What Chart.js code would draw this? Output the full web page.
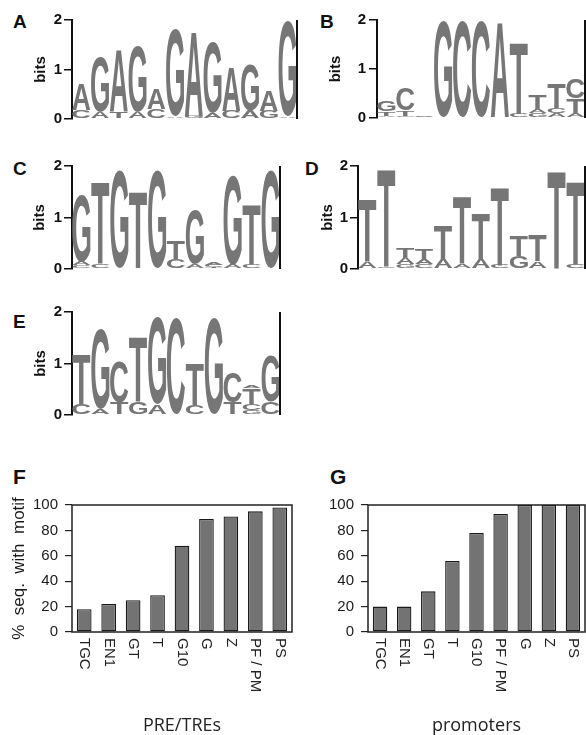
<!DOCTYPE html>
<html>
<head>
<meta charset="utf-8">
<script src="https://cdn.jsdelivr.net/npm/chart.js@4.4.1/dist/chart.umd.min.js"></script>
<style>
  html, body { margin: 0; padding: 0; background: #fff; }
  #wrap { position: relative; width: 586px; height: 735px; overflow: hidden; background: #fff; }
  canvas { position: absolute; }
  .pl { position: absolute; font-family: "Liberation Sans", Arial, Helvetica, sans-serif; font-weight: bold; font-size: 19px; line-height: 19px; color: #111; }
</style>
</head>
<body>
<div id="wrap">
  <div class="pl" style="left:13px;top:12px">A</div>
  <div class="pl" style="left:320px;top:12px">B</div>
  <div class="pl" style="left:13px;top:159px">C</div>
  <div class="pl" style="left:305px;top:159px">D</div>
  <div class="pl" style="left:13px;top:312px">E</div>
  <div class="pl" style="left:13px;top:466px;font-size:21px;line-height:21px">F</div>
  <div class="pl" style="left:330px;top:466px;font-size:21px;line-height:21px">G</div>

  <canvas id="cA" width="300" height="130" style="left:0;top:0"></canvas>
  <canvas id="cB" width="296" height="130" style="left:290px;top:0"></canvas>
  <canvas id="cC" width="300" height="140" style="left:0;top:140px"></canvas>
  <canvas id="cD" width="296" height="140" style="left:290px;top:140px"></canvas>
  <canvas id="cE" width="300" height="140" style="left:0;top:290px"></canvas>
  <canvas id="cF" width="300" height="295" style="left:0;top:440px"></canvas>
  <canvas id="cG" width="296" height="295" style="left:290px;top:440px"></canvas>
</div>
<script>
// ---------- DATA ----------
// Sequence logos: letters per position (bottom -> top) and their heights in bits
const logoA_letters = [['C','A'],['A','G'],['T','A'],['A','G'],['C','A'],['A','G'],['G','A'],['A','G'],['C','A'],['A','G'],['G','A'],['A','G']];
const logoA_bits    = [[.18,.52],[.15,1.12],[.15,1.25],[.15,1.32],[.2,.43],[.05,1.75],[.06,1.71],[.12,1.43],[.17,.89],[.17,.93],[.17,.43],[.05,1.92]];

const logoB_letters = [['A','T','G'],['G','T','C'],['A','C'],['G'],['C'],['C'],['A'],['C','T'],['G','A','T'],['A','C','T'],['A','T','C']];
const logoB_bits    = [[.05,.08,.2],[.05,.1,.45],[.03,.03],[1.98],[1.98],[1.98],[1.96],[.08,1.45],[.1,.08,.3],[.1,.1,.5],[.08,.32,.4]];

const logoC_letters = [['C','A','G'],['C','T'],['G'],['T'],['G'],['C','T'],['A','G'],['T','C','A'],['A','G'],['C','T'],['G']];
const logoC_bits    = [[.07,.07,1.3],[.1,1.6],[1.92],[1.5],[1.92],[.2,.35],[.1,1.05],[.04,.04,.05],[.08,1.75],[.1,1.15],[1.92]];

const logoD_letters = [['A','T'],['C','T'],['G','A','T'],['C','A','T'],['A','T'],['A','T'],['A','T'],['C','T'],['G','T'],['A','T'],['T'],['C','T']];
const logoD_bits    = [[.15,1.2],[.05,1.9],[.1,.12,.2],[.1,.1,.2],[.2,.65],[.1,1.3],[.2,.87],[.08,1.5],[.25,.4],[.15,.5],[1.9],[.08,1.62]];

const logoE_letters = [['C','T'],['A','G'],['T','C'],['G','T'],['A','G'],['C'],['C','T'],['G'],['T','C'],['G','C','T','A'],['C','G']];
const logoE_bits    = [[.22,.95],[.12,1.55],[.25,.78],[.25,1.25],[.2,1.68],[1.88],[.2,.8],[1.88],[.25,.58],[.1,.12,.3,.04],[.25,.9]];

const bitTicks = [0, 1, 2];

// Bar charts
const F_categories = ['TGC','EN1','GT','T','G10','G','Z','PF / PM','PS'];
const F_values     = [18, 22, 25, 29, 68, 89, 91, 95, 98];
const G_categories = ['TGC','EN1','GT','T','G10','PF / PM','G','Z','PS'];
const G_values     = [20, 20, 32, 56, 78, 93, 100, 100, 100];

// ---------- HELPERS ----------
const SANS = '"Liberation Sans", Arial, Helvetica, sans-serif';
const LETTER_COLOR = '#767676';

function drawLetter(ctx, ch, left, top, w, h) {
  if (h < 0.6 || w < 1) return;
  ctx.save();
  ctx.font = 'bold 100px ' + SANS;
  ctx.textAlign = 'left';
  ctx.textBaseline = 'alphabetic';
  const m = ctx.measureText(ch);
  const gw = m.actualBoundingBoxLeft + m.actualBoundingBoxRight;
  const gh = m.actualBoundingBoxAscent + m.actualBoundingBoxDescent;
  ctx.translate(left, top);
  ctx.scale(w / gw, h / gh);
  ctx.fillStyle = LETTER_COLOR;
  ctx.fillText(ch, m.actualBoundingBoxLeft, m.actualBoundingBoxAscent);
  ctx.restore();
}

const logoPlugin = {
  id: 'logoLetters',
  afterDatasetsDraw(chart) {
    const ctx = chart.ctx;
    chart.data.datasets.forEach((ds, di) => {
      const meta = chart.getDatasetMeta(di);
      meta.data.forEach((bar, i) => {
        const ch = ds.letters[i];
        if (!ch) return;
        const p = bar.getProps(['x', 'y', 'base', 'width'], true);
        const top = Math.min(p.y, p.base), h = Math.abs(p.base - p.y);
        drawLetter(ctx, ch, p.x - p.width / 2, top, p.width, h);
      });
    });
  },
  afterDraw(chart) {
    const a = chart.chartArea, ctx = chart.ctx;
    ctx.save();
    ctx.strokeStyle = '#111';
    ctx.lineWidth = 2;
    ctx.beginPath();
    ctx.moveTo(a.right, a.top);
    ctx.lineTo(a.right, a.bottom);
    ctx.stroke();
    ctx.restore();
  }
};

function logoDatasets(letters, bits) {
  const nLayers = Math.max(...letters.map(l => l.length));
  const ds = [];
  for (let l = 0; l < nLayers; l++) {
    ds.push({
      data: bits.map(b => (b[l] !== undefined ? b[l] : 0)),
      letters: letters.map(c => c[l] || null),
      backgroundColor: 'rgba(0,0,0,0)',
      borderWidth: 0,
      barPercentage: 1,
      categoryPercentage: 0.96
    });
  }
  return ds;
}

function makeLogo(id, letters, bits, cfg) {
  new Chart(document.getElementById(id), {
    type: 'bar',
    data: { labels: letters.map((_, i) => String(i + 1)), datasets: logoDatasets(letters, bits) },
    options: {
      responsive: false, animation: false, devicePixelRatio: 1, events: [],
      layout: { padding: cfg.padding },
      plugins: { legend: { display: false }, tooltip: { enabled: false } },
      scales: {
        x: { display: false, stacked: true },
        y: {
          stacked: true, min: bitTicks[0], max: bitTicks[bitTicks.length - 1],
          afterFit: s => { s.width = cfg.axisWidth; },
          afterBuildTicks: s => { s.ticks = bitTicks.map(v => ({ value: v })); },
          ticks: { color: '#111', padding: cfg.tickPad, font: { family: SANS, size: 15, weight: 'bold' } },
          grid: { display: true, drawOnChartArea: false, drawTicks: true, tickLength: 8, color: '#111', lineWidth: 1.5 },
          border: { display: true, color: '#111', width: 2 },
          title: { display: true, text: 'bits', color: '#111', font: { family: SANS, size: 15, weight: 'bold', lineHeight: 1 }, padding: { top: cfg.titlePad, bottom: 0 } }
        }
      }
    },
    plugins: [logoPlugin]
  });
}

makeLogo('cA', logoA_letters, logoA_bits, { padding: { top: 20, bottom: 10, left: 0, right: 3 }, axisWidth: 72, tickPad: 2, titlePad: 33 });
makeLogo('cB', logoB_letters, logoB_bits, { padding: { top: 20, bottom: 10, left: 0, right: 1 }, axisWidth: 87, tickPad: 3, titlePad: 38 });
makeLogo('cC', logoC_letters, logoC_bits, { padding: { top: 26, bottom: 11, left: 0, right: 20 }, axisWidth: 72, tickPad: 2, titlePad: 32 });
makeLogo('cD', logoD_letters, logoD_bits, { padding: { top: 26, bottom: 11, left: 0, right: 1 }, axisWidth: 68, tickPad: 2, titlePad: 30 });
makeLogo('cE', logoE_letters, logoE_bits, { padding: { top: 22, bottom: 15, left: 0, right: 20 }, axisWidth: 72, tickPad: 2, titlePad: 33 });

// ---------- BAR CHARTS ----------
const boxPlugin = {
  id: 'boxAndLabels',
  afterDraw(chart) {
    const a = chart.chartArea, ctx = chart.ctx;
    ctx.save();
    ctx.strokeStyle = '#222';
    ctx.lineWidth = 1.5;
    ctx.strokeRect(a.left, a.top, a.right - a.left, a.bottom - a.top);
    // x tick labels, rotated clockwise
    const xs = chart.scales.x;
    ctx.fillStyle = '#222';
    ctx.font = '15px ' + SANS;
    ctx.textAlign = 'left';
    ctx.textBaseline = 'middle';
    chart.data.labels.forEach((lab, i) => {
      const x = xs.getPixelForTick(i);
      ctx.save();
      ctx.translate(x, a.bottom + 6);
      ctx.rotate(Math.PI / 2);
      ctx.fillText(lab, 0, 0);
      ctx.restore();
    });
    ctx.restore();
  }
};

function makeBars(id, cats, vals, cfg) {
  new Chart(document.getElementById(id), {
    type: 'bar',
    data: {
      labels: cats,
      datasets: [{
        data: vals, backgroundColor: '#737373', borderColor: '#1a1a1a', borderWidth: 1.3,
        borderSkipped: false, barPercentage: 0.6, categoryPercentage: 1
      }]
    },
    options: {
      responsive: false, animation: false, devicePixelRatio: 1, events: [],
      layout: { padding: cfg.padding },
      plugins: { legend: { display: false }, tooltip: { enabled: false } },
      scales: {
        x: {
          grid: { display: false }, border: { display: false }, ticks: { display: false },
          afterFit: s => { s.height = 103; },
          title: { display: true, text: cfg.xTitle, color: '#222', font: { family: '"Open Sans", "Noto Sans", sans-serif', size: 18, lineHeight: 1 }, padding: { top: 0, bottom: 0 } }
        },
        y: {
          min: 0, max: 100,
          afterFit: s => { s.width = cfg.axisWidth; },
          ticks: { stepSize: 20, padding: 7, color: '#1a1a1a', font: { family: SANS, size: 15 } },
          grid: { display: true, drawOnChartArea: false, drawTicks: true, tickLength: 7, color: '#222', lineWidth: 1.2 },
          border: { display: false },
          title: { display: cfg.yTitle !== null, text: cfg.yTitle || '', color: '#1a1a1a', font: { family: SANS, size: 17, lineHeight: 1 }, padding: { top: 11, bottom: 0 } }
        }
      }
    },
    plugins: [boxPlugin]
  });
}

makeBars('cF', F_categories, F_values, { padding: { top: 65, bottom: 0, left: 0, right: 8 }, axisWidth: 72, xTitle: 'PRE/TREs', yTitle: '%  seq.  with  motif' });
makeBars('cG', G_categories, G_values, { padding: { top: 65, bottom: 0, left: 0, right: 1 }, axisWidth: 78, xTitle: 'promoters', yTitle: null });
</script>
</body>
</html>
